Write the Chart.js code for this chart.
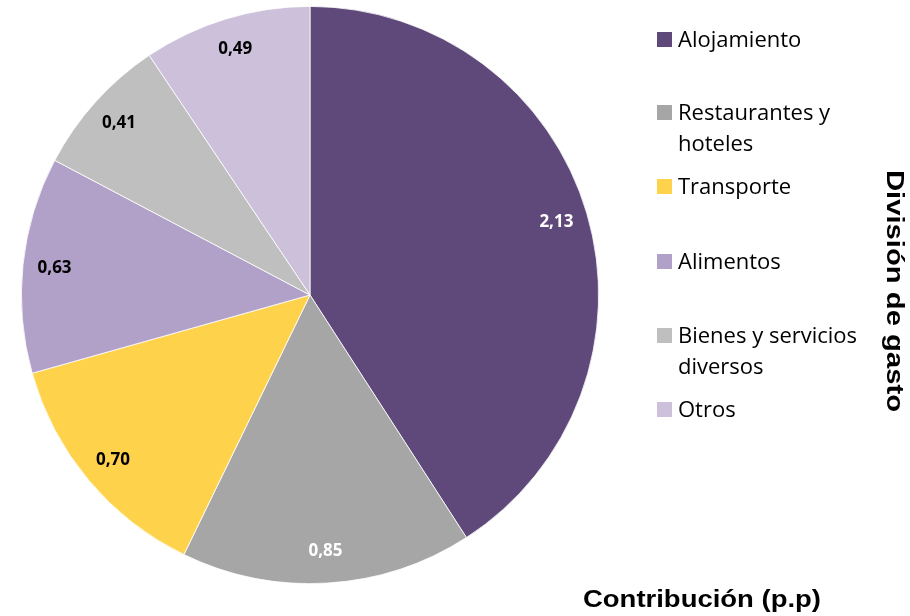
<!DOCTYPE html>
<html>
<head>
<meta charset="utf-8">
<script src="https://cdn.jsdelivr.net/npm/chart.js@4.4.1/dist/chart.umd.min.js"></script>
<style>
  html, body { margin: 0; padding: 0; background: #fff; }
  #wrap { width: 910px; height: 616px; position: relative; }
</style>
</head>
<body>
<div id="wrap"><canvas id="pieChart" width="910" height="616"></canvas></div>
<script>
// datos del grafico
const categories = ['Alojamiento', 'Restaurantes y hoteles', 'Transporte', 'Alimentos', 'Bienes y servicios diversos', 'Otros'];
const legendLines = [['Alojamiento'], ['Restaurantes y', 'hoteles'], ['Transporte'], ['Alimentos'], ['Bienes y servicios', 'diversos'], ['Otros']];
const contributions = [2.13, 0.85, 0.70, 0.63, 0.41, 0.49];
const sliceColors = ['#5f497a', '#a6a6a6', '#ffd24c', '#b1a0c7', '#bfbfbf', '#ccc0da'];
const labelColors = ['#ffffff', '#ffffff', '#000000', '#000000', '#000000', '#000000'];

// etiquetas de valor dentro de cada porcion
const valueLabels = {
    id: 'valueLabels',
    afterDatasetsDraw(chart) {
        const ctx = chart.ctx;
        const meta = chart.getDatasetMeta(0);
        ctx.save();
        ctx.font = 'bold 17px "Open Sans", sans-serif';
        ctx.textAlign = 'center';
        ctx.textBaseline = 'middle';
        meta.data.forEach((arc, i) => {
            const mid = (arc.startAngle + arc.endAngle) / 2;
            const r = arc.outerRadius * 0.89;
            const x = arc.x + Math.cos(mid) * r;
            const y = arc.y + Math.sin(mid) * r;
            ctx.fillStyle = labelColors[i];
            ctx.fillText(contributions[i].toFixed(2).replace('.', ','), x, y);
        });
        ctx.restore();
    }
};

// texto ajustado a un ancho dado
function fitText(ctx, text, x, y, width) {
    const w = ctx.measureText(text).width;
    ctx.save();
    ctx.translate(x, y);
    ctx.scale(width / w, 1);
    ctx.fillText(text, 0, 0);
    ctx.restore();
}

// leyenda y titulos
const sideTexts = {
    id: 'sideTexts',
    afterDraw(chart) {
        const ctx = chart.ctx;
        const rowY = [39, 112, 186, 261, 335, 409];
        ctx.save();
        ctx.font = '22px "Open Sans", sans-serif';
        ctx.textBaseline = 'middle';
        ctx.textAlign = 'left';
        legendLines.forEach((lines, i) => {
            ctx.fillStyle = sliceColors[i];
            ctx.fillRect(657, rowY[i] - 7, 15, 15);
            ctx.fillStyle = '#000';
            lines.forEach((t, j) => ctx.fillText(t, 678, rowY[i] + 2 + j * 31));
        });

        ctx.font = 'bold 24px "Liberation Sans", Arial, sans-serif';
        ctx.textAlign = 'center';
        fitText(ctx, 'Contribución (p.p)', 702, 600, 238);

        ctx.translate(894, 291);
        ctx.rotate(Math.PI / 2);
        fitText(ctx, 'División de gasto', 0, 0, 242);
        ctx.restore();
    }
};

const ctxPie = document.getElementById('pieChart').getContext('2d');
new Chart(ctxPie, {
    type: 'pie',
    data: {
        labels: categories,
        datasets: [{
            label: 'Contribución (p.p)',
            data: contributions,
            backgroundColor: sliceColors,
            borderColor: '#ffffff',
            borderWidth: 0.8
        }]
    },
    options: {
        responsive: false,
        animation: false,
        layout: { padding: { left: 21, right: 311, top: 6, bottom: 32 } },
        plugins: {
            legend: { display: false },
            tooltip: { enabled: false }
        }
    },
    plugins: [valueLabels, sideTexts]
});
</script>
</body>
</html>
